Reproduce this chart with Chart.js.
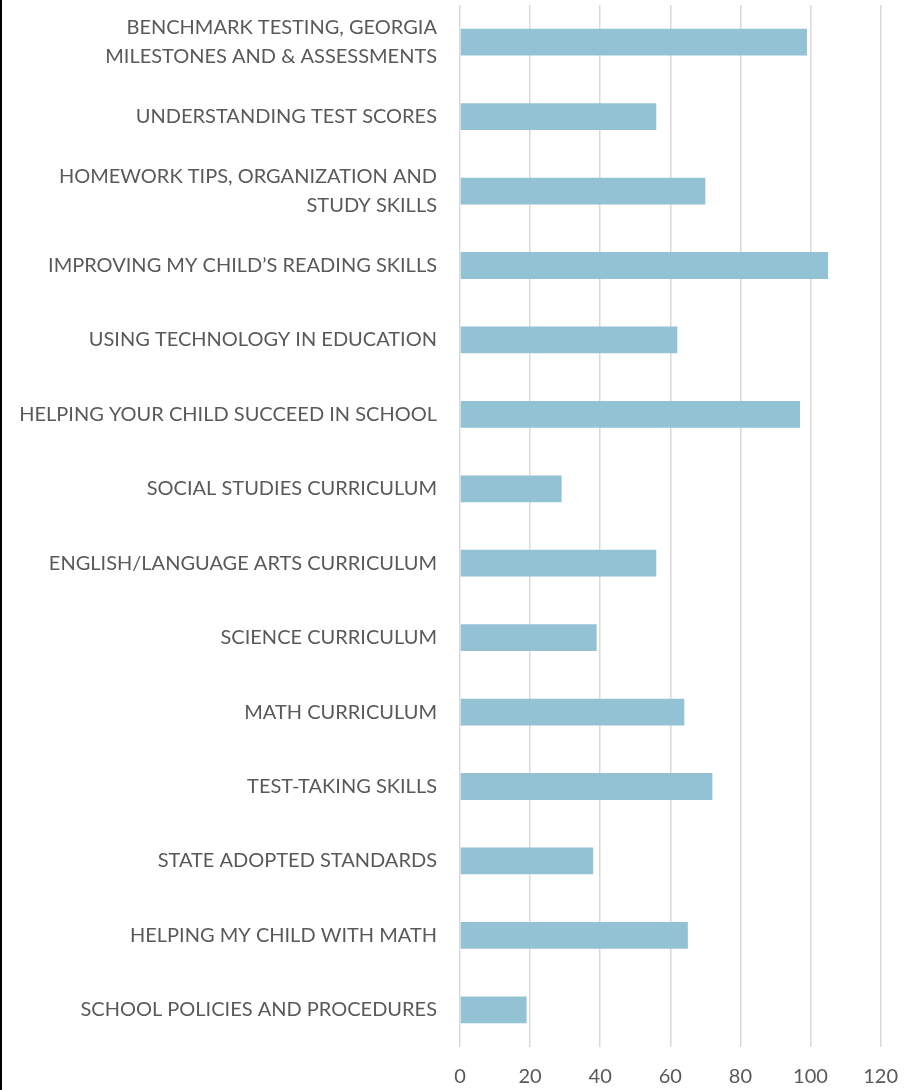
<!doctype html>
<html lang="en">

<head>
	<meta charset="utf-8">
	<title></title>
	<style>
		* {
			margin: 0;
			padding: 0;
		}

		body {
			background: #fff;
		}

		.chartBox {
			width: 914px;
			height: 1090px;
			border-left: 2px solid #000;
		}
	</style>
</head>

<body>
	<div class="chartBox">
		<canvas id="topicChart"></canvas>
	</div>
	<script src="https://cdn.jsdelivr.net/npm/chart.js"></script>

	<script>
		const topics = [
			['BENCHMARK TESTING, GEORGIA', 'MILESTONES AND & ASSESSMENTS'],
			'UNDERSTANDING TEST SCORES',
			['HOMEWORK TIPS, ORGANIZATION AND', 'STUDY SKILLS'],
			'IMPROVING MY CHILD\u2019S READING SKILLS',
			'USING TECHNOLOGY IN EDUCATION',
			'HELPING YOUR CHILD SUCCEED IN SCHOOL',
			'SOCIAL STUDIES CURRICULUM',
			'ENGLISH/LANGUAGE ARTS CURRICULUM',
			'SCIENCE CURRICULUM',
			'MATH CURRICULUM',
			'TEST-TAKING SKILLS',
			'STATE ADOPTED STANDARDS',
			'HELPING MY CHILD WITH MATH',
			'SCHOOL POLICIES AND PROCEDURES'
		]
		const responses = [99, 56, 70, 105, 62, 97, 29, 56, 39, 64, 72, 38, 65, 19]

		const textColor = '#595959'
		const fontFamily = 'Lato, "Open Sans", sans-serif'

		const ctx = document.getElementById('topicChart')

		const topicChart = new Chart(ctx, {
			type: 'bar',
			data: {
				labels: topics,
				datasets: [{
					data: responses,
					backgroundColor: '#93c2d4',
					borderWidth: 0,
					barPercentage: 0.36,
					categoryPercentage: 1
				}]
			},
			options: {
				indexAxis: 'y',
				responsive: true,
				maintainAspectRatio: false,
				animation: false,
				layout: {
					padding: { top: 5, right: 34, bottom: 1, left: 0 }
				},
				plugins: {
					legend: { display: false },
					tooltip: { enabled: false }
				},
				scales: {
					x: {
						min: 0,
						max: 120,
						afterFit: (scale) => { scale.height = 42 },
						ticks: {
							stepSize: 20,
							color: textColor,
							padding: 18,
							font: { family: fontFamily, size: 20 }
						},
						grid: {
							color: '#d9d9d9',
							lineWidth: 1.5,
							drawTicks: false
						},
						border: { display: false }
					},
					y: {
						afterFit: (scale) => {
							// fixed label column; let the wrapped first label overhang the top
							scale.width = 458
							scale.paddingTop = 0
							scale.paddingBottom = 0
						},
						ticks: {
							color: textColor,
							padding: 15,
							font: { family: fontFamily, size: 20, lineHeight: 1.45 }
						},
						grid: { display: false },
						border: { display: false }
					}
				}
			}
		})
	</script>

</body>

</html>
